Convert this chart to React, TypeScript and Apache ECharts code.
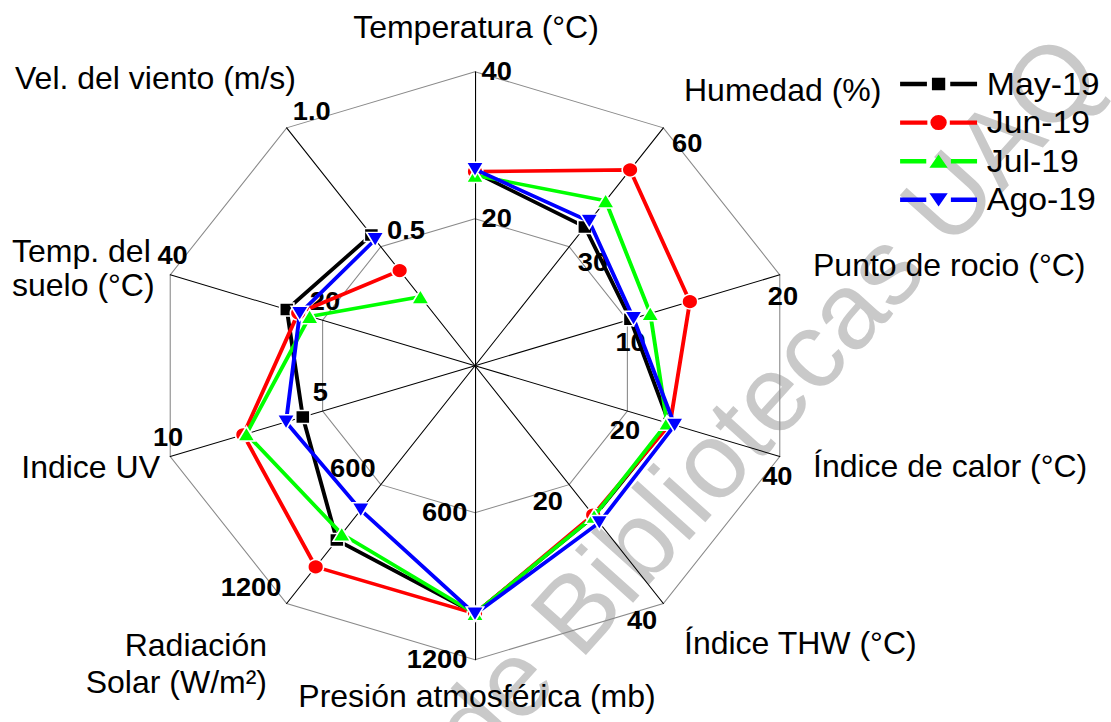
import React, { useEffect, useRef } from 'react';
import * as echarts from 'echarts';

// ---------- data (clockwise from the top, as read on the figure) ----------
const axisNames = [
  'Temperatura (°C)',
  'Humedad (%)',
  'Punto de rocio (°C)',
  'Índice de calor (°C)',
  'Índice THW (°C)',
  'Presión atmosférica (mb)',
  'Radiación Solar (W/m²)',
  'Indice UV',
  'Temp. del suelo (°C)',
  'Vel. del viento (m/s)',
];
const axisMax = [40, 60, 20, 40, 40, 1200, 1200, 10, 40, 1.0];
const months = ['May-19', 'Jun-19', 'Jul-19', 'Ago-19'];
const may19 = [26.3, 35.0, 10.2, 25.5, 25.3, 1011, 880, 5.65, 24.7, 0.55];
const jun19 = [26.4, 49.4, 14.1, 25.6, 25.1, 1012, 1015, 7.6, 23.2, 0.40];
const jul19 = [25.9, 41.6, 11.5, 25.2, 25.3, 1011, 849, 7.5, 21.7, 0.29];
const ago19 = [26.7, 36.4, 10.4, 26.2, 26.4, 1014, 728, 6.2, 23.0, 0.53];
const monthValues = [may19, jun19, jul19, ago19];

// ---------- styling / layout ----------
const FONT = '"Liberation Sans", Arial, Helvetica, sans-serif';
const SX = 1.09; // horizontal stretch of the original figure
const CX = 475;
const CY = 365.7;
const R = 294;
const seriesColors = ['#000000', '#ff0000', '#00ff00', '#0000ff'];
const symbols = ['rect', 'circle', 'triangle', 'path://M0,0L10,0L5,8.66Z'];
const symbolSizes: any[] = [13, 14.5, [16, 14.5], [16, 14.5]];

// ECharts lays radar indicators counter-clockwise; the figure runs clockwise.
const ccwOrder = [0, 9, 8, 7, 6, 5, 4, 3, 2, 1];

const labelPlacement = [
  { align: 'left', verticalAlign: 'middle', margin: -6 },
  { align: 'center', verticalAlign: 'middle', margin: -27 },
  { align: 'center', verticalAlign: 'top', margin: -9.6 },
  { align: 'center', verticalAlign: 'top', margin: -7.4 },
  { align: 'right', verticalAlign: 'top', margin: -7 },
  { align: 'right', verticalAlign: 'middle', margin: -7 },
  { align: 'right', verticalAlign: 'bottom', margin: -6 },
  { align: 'center', verticalAlign: 'bottom', margin: -6.5 },
  { align: 'center', verticalAlign: 'bottom', margin: -7 },
  { align: 'center', verticalAlign: 'middle', margin: -28.5 },
];

const commonLabel = {
  show: true,
  showMinLabel: false,
  fontSize: 25,
  fontWeight: 'bold',
  fontFamily: FONT,
  color: '#000',
  formatter: (v: number) => (v === 1 ? '1.0' : String(v)),
};

// axis titles drawn unstretched (page coordinates)
const nameLayout: any[] = [
  { lines: ['Temperatura (°C)'], x: 476, y: 26.5, align: 'center' },
  { lines: ['Humedad (%)'], x: 684, y: 90, align: 'left' },
  { lines: ['Punto de rocio (°C)'], x: 813, y: 265, align: 'left' },
  { lines: ['Índice de calor (°C)'], x: 813, y: 466, align: 'left' },
  { lines: ['Índice THW (°C)'], x: 684, y: 643, align: 'left' },
  { lines: ['Presión atmosférica (mb)'], x: 477, y: 696, align: 'center' },
  { lines: ['Radiación', 'Solar (W/m²)'], x: 267, y: 645, align: 'right', gap: 37 },
  { lines: ['Indice UV'], x: 160, y: 467, align: 'right' },
  { lines: ['Temp. del', 'suelo (°C)'], x: 12, y: 251, align: 'left', gap: 34 },
  { lines: ['Vel. del viento (m/s)'], x: 15, y: 78, align: 'left' },
];

// legend icons: line with a marker in the middle (chart units, 70.6 x 15 box)
const LW = 70.6;
const LH = 15;
const seg = (x0: number, x1: number) => `M${x0},5.3H${x1}V9.7H${x0}Z`;
const frame = `M0,0M${LW},${LH}`;
const legendIcons = [
  'path://' + frame + seg(0, 24.6) + seg(46, LW) + 'M29.2,1.15H41.4V13.85H29.2Z',
  'path://' + frame + seg(0, 25) + seg(45.6, LW) + 'M27.8,7.5A7.5,7.5,0,1,0,42.8,7.5A7.5,7.5,0,1,0,27.8,7.5Z',
  'path://' + frame + seg(0, 24) + seg(46.6, LW) + 'M26.9,14.1L43.7,14.1L35.3,0.8Z',
  'path://' + frame + seg(0, 24) + seg(46.6, LW) + 'M26.9,0.9L43.7,0.9L35.3,14.2Z',
];

export default function App() {
  const bgRef = useRef<HTMLDivElement>(null);
  const mainRef = useRef<HTMLDivElement>(null);

  useEffect(() => {
    const bg = echarts.init(bgRef.current as HTMLDivElement, null, { renderer: 'svg' });
    const main = echarts.init(mainRef.current as HTMLDivElement, null, { renderer: 'svg' });

    const nameElements: any[] = [];
    nameLayout.forEach((n) => {
      n.lines.forEach((line: string, li: number) => {
        nameElements.push({
          type: 'text',
          x: n.x,
          y: n.y + li * (n.gap || 0),
          style: {
            text: line,
            font: `32px ${FONT}`,
            fill: '#000',
            textAlign: n.align,
            textVerticalAlign: 'middle',
          },
        });
      });
    });

    bg.setOption({
      animation: false,
      backgroundColor: '#ffffff',
      graphic: [
        {
          type: 'text',
          x: 765,
          y: 400,
          rotation: (48 * Math.PI) / 180,
          z: 0,
          style: {
            text: 'de Bibliotecas UAQ',
            font: `108px ${FONT}`,
            fill: '#c9c9c9',
            textAlign: 'center',
            textVerticalAlign: 'middle',
          },
        },
        ...nameElements,
      ],
    });

    const indicator = ccwOrder.map((k) => ({
      name: axisNames[k],
      min: 0,
      max: axisMax[k],
      axisLabel: { ...commonLabel, ...labelPlacement[k] },
    }));

    main.setOption({
      animation: false,
      backgroundColor: 'transparent',
      legend: {
        orient: 'vertical',
        left: 865,
        top: 68.5,
        padding: 0,
        itemWidth: LW,
        itemHeight: LH,
        itemGap: 7.6,
        itemStyle: { borderWidth: 0 },
        textStyle: { fontSize: 31, fontFamily: FONT, color: '#000', lineHeight: 31, padding: [0, 0, 0, 4] },
        data: months.map((m, i) => ({ name: m, icon: legendIcons[i] })),
      },
      // radar component: polygon grid, spokes and the per-axis tick labels
      radar: {
        center: [CX, CY],
        radius: R,
        startAngle: 90,
        splitNumber: 2,
        shape: 'polygon',
        axisName: { show: false },
        axisLine: { show: true, lineStyle: { color: '#000', width: 1 } },
        axisTick: { show: false },
        splitLine: { show: true, lineStyle: { color: '#8a8a8a', width: 1 } },
        splitArea: { show: false },
        axisLabel: commonLabel,
        indicator,
      },
      // polar system on the same centre/radius: carries the open (unclosed) profiles,
      // each value taken as a fraction of its own radar axis maximum
      polar: { center: [CX, CY], radius: R },
      angleAxis: {
        type: 'category',
        data: axisNames,
        startAngle: 90 + 180 / axisNames.length,
        clockwise: true,
        boundaryGap: true,
        show: false,
      },
      radiusAxis: { type: 'value', min: 0, max: 1, show: false },
      series: months.map((m, i) => ({
        name: m,
        type: 'line',
        coordinateSystem: 'polar',
        z: 3 + i,
        symbol: symbols[i],
        symbolSize: symbolSizes[i],
        showSymbol: true,
        showAllSymbol: true,
        itemStyle: { color: seriesColors[i], borderColor: '#ffffff', borderWidth: 1.5 },
        lineStyle: { color: seriesColors[i], width: 3.6 },
        data: monthValues[i].map((v, k) => v / axisMax[k]),
      })),
    });

    return () => {
      bg.dispose();
      main.dispose();
    };
  }, []);

  return (
    <div
      style={{
        position: 'absolute',
        left: 0,
        top: 0,
        width: 1111,
        height: 722,
        overflow: 'hidden',
        background: '#fff',
      }}
    >
      <div ref={bgRef} style={{ position: 'absolute', left: 0, top: 0, width: 1111, height: 722 }} />
      <div
        ref={mainRef}
        style={{
          position: 'absolute',
          left: 0,
          top: 0,
          width: 1111,
          height: 722,
          transform: `scaleX(${SX})`,
          transformOrigin: `${CX}px 0px`,
        }}
      />
    </div>
  );
}
